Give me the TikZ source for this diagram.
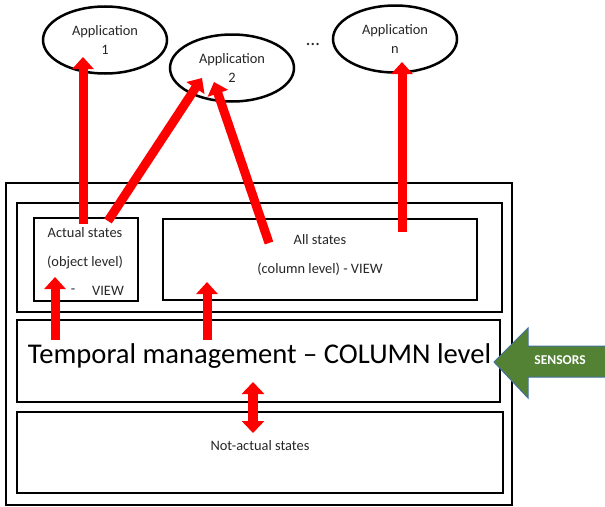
\documentclass[tikz,border=0pt]{standalone}
\usepackage{fontspec}
\setmainfont{Carlito}
\usetikzlibrary{arrows.meta,shapes.geometric}
\definecolor{flowred}{RGB}{255,0,0}
\definecolor{sensorgreen}{RGB}{84,130,53}
\definecolor{sensoredge}{RGB}{65,113,156}
\definecolor{inktext}{RGB}{38,38,38}
\begin{document}
\begin{tikzpicture}[x=1pt,y=-1pt,
  panel/.style={draw=black, line width=2pt, inner sep=0pt},
  app/.style={draw=black, line width=2.5pt, ellipse, minimum width=124pt,
    minimum height=67pt, inner sep=0pt, align=center, text=inktext,
    font=\fontsize{14.4}{19}\selectfont},
  label/.style={inner sep=0pt, text=inktext, font=\fontsize{14.4}{16}\selectfont},
  flow/.style={draw=flowred, line width=9pt,
    -{Triangle[width=21pt,length=12pt]}},
  flowboth/.style={draw=flowred, line width=10pt,
    {Triangle[width=22pt,length=12pt]}-{Triangle[width=22pt,length=12pt]}}]
\useasboundingbox (0,0) rectangle (605,506);

% applications
\node[app] (app1) at (105,40) {Application\\1};
\node[app] (app2) at (232,68) {Application\\2};
\node[app] (appn) at (395,39) {Application\\n};
\node[label, font=\fontsize{19}{19}\selectfont] (dots) at (313,44) {\dots};

% storage panels
\node[panel, minimum width=506pt, minimum height=322pt] (outer) at (259,344) {};
\node[panel, minimum width=485pt, minimum height=109pt] (views) at (259.5,257.5) {};
\node[panel, minimum width=104pt, minimum height=83pt] (actual) at (86,259.5) {};
\node[panel, minimum width=314pt, minimum height=81pt] (allst) at (320,259.5) {};
\node[panel, minimum width=483pt, minimum height=82pt] (temporal) at (258.5,361) {};
\node[panel, minimum width=486pt, minimum height=81pt] (notactual) at (260,452.5) {};

% texts
\node[label] (t-actual) at (85,233) {Actual states};
\node[label] (t-object) at (85,262) {(object level)};
\node[label] (t-dash) at (73,291) {-};
\node[label] (t-view) at (108,291) {VIEW};
\node[label] (t-all) at (320,240) {All states};
\node[label] (t-column) at (320,269) {(column level) - VIEW};
\node[inner sep=0pt, text=black, font=\fontsize{28.6}{30}\selectfont]
  (t-temporal) at (259.5,356) {Temporal management – COLUMN level};
\node[label] (t-notactual) at (260,446) {Not-actual states};

% sensors arrow
\fill[sensorgreen] (494,362) -- (528,328) -- (528,346) -- (610,346)
  -- (610,377) -- (528,377) -- (528,398) -- cycle;
\draw[sensoredge, line width=1pt] (610,346) -- (528,346) -- (528,328)
  -- (494,362) -- (528,398) -- (528,377) -- (610,377);
\node[inner sep=0pt, text=white, font=\fontsize{13.5}{13.5}\selectfont\bfseries]
  (sensors) at (560,360) {SENSORS};

% flows
\coordinate (s1) at (83,224);
\coordinate (e1) at (83,57);
\coordinate (s2) at (108,221);
\coordinate (e2) at (202,78);
\coordinate (s3) at (269,243);
\coordinate (e3) at (214,82);
\coordinate (s4) at (402,232);
\coordinate (e4) at (402,62);
\coordinate (s5) at (55,340);
\coordinate (e5) at (55,277);
\coordinate (s6) at (207,340);
\coordinate (e6) at (207,282);
\coordinate (s7) at (253,382);
\coordinate (e7) at (253,433);
\draw[flow] (s1) -- (e1);
\draw[flow] (s2) -- (e2);
\draw[flow] (s3) -- (e3);
\draw[flow] (s4) -- (e4);
\draw[flow] (s5) -- (e5);
\draw[flow] (s6) -- (e6);
\draw[flowboth] (s7) -- (e7);
\end{tikzpicture}
\end{document}
